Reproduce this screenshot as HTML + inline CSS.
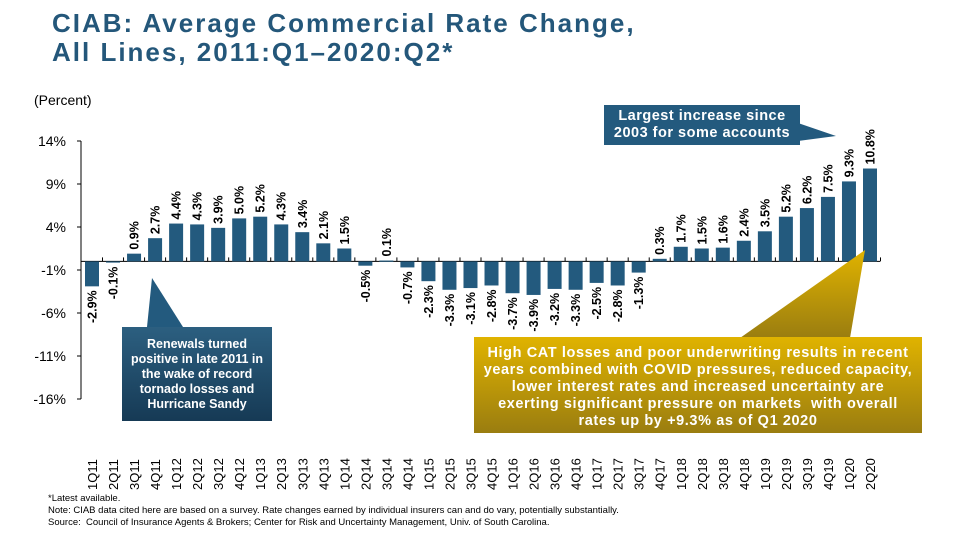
<!DOCTYPE html>
<html><head><meta charset="utf-8"><style>
body{margin:0;width:960px;height:540px;background:#fff;font-family:"Liberation Sans",Arial,sans-serif;overflow:hidden;position:relative}
.t{position:absolute}
</style></head><body>
<div class="t" style="left:52px;top:9px;font-size:26px;font-weight:bold;letter-spacing:2px;color:#24577a;line-height:29px">CIAB: Average Commercial Rate Change,<br>All Lines, 2011:Q1–2020:Q2*</div>
<div class="t" style="left:34px;top:92px;font-size:14px;color:#000">(Percent)</div>
<svg id="chart" width="960" height="540" style="position:absolute;left:0;top:0"></svg>
<div class="t" style="left:48px;top:493px;font-size:9.5px;line-height:12px;color:#000">*Latest available.<br>Note: CIAB data cited here are based on a survey. Rate changes earned by individual insurers can and do vary, potentially substantially.<br>Source:&nbsp; Council of Insurance Agents &amp; Brokers; Center for Risk and Uncertainty Management, Univ. of South Carolina.</div>
<script>
const categories=["1Q11","2Q11","3Q11","4Q11","1Q12","2Q12","3Q12","4Q12","1Q13","2Q13","3Q13","4Q13","1Q14","2Q14","3Q14","4Q14","1Q15","2Q15","3Q15","4Q15","1Q16","2Q16","3Q16","4Q16","1Q17","2Q17","3Q17","4Q17","1Q18","2Q18","3Q18","4Q18","1Q19","2Q19","3Q19","4Q19","1Q20","2Q20"];
const values=[-2.9,-0.1,0.9,2.7,4.4,4.3,3.9,5.0,5.2,4.3,3.4,2.1,1.5,-0.5,0.1,-0.7,-2.3,-3.3,-3.1,-2.8,-3.7,-3.9,-3.2,-3.3,-2.5,-2.8,-1.3,0.3,1.7,1.5,1.6,2.4,3.5,5.2,6.2,7.5,9.3,10.8];
const yTicks=[14,9,4,-1,-6,-11,-16];
const NS="http://www.w3.org/2000/svg";
const svg=document.getElementById('chart');
const yMax=14,yMin=-16,yTop=141,yBot=399;
function y(v){return yTop+(yMax-v)*(yBot-yTop)/(yMax-yMin);}
const x0=92,step=(870-92)/37;
function x(i){return x0+i*step;}
function mk(t,a,txt){const e=document.createElementNS(NS,t);for(const k in a)e.setAttribute(k,a[k]);if(txt!==undefined)e.textContent=txt;svg.appendChild(e);return e;}
let ax=mk('line',{x1:81,y1:yTop,x2:81,y2:yBot,stroke:'#000','stroke-width':1});


yTicks.forEach(t=>{
  const l=mk('line',{x1:77,y1:y(t),x2:81,y2:y(t),stroke:'#000'});
  
  
  const tx=mk('text',{x:66,y:y(t)+5,'text-anchor':'end','font-size':14,'font-family':'Liberation Sans, sans-serif'},t+'%');
  
  
});
const z=y(0);
let zl=mk('line',{x1:81,y1:z,x2:880,y2:z,stroke:'#000'});


categories.forEach((c,i)=>{
  const tk=mk('line',{x1:x(i)+step/2,y1:z-4,x2:x(i)+step/2,y2:z,stroke:'#000'});
  
  
  const v=values[i];
  const top=Math.min(y(v),z),h=Math.max(Math.abs(y(v)-z),1.2);
  const b=mk('rect',{x:x(i)-7,y:top,width:14,height:h,fill:'#235a7e'});
  
  
  const lbl=(v.toFixed(1))+'%';
  let vl;
  if(v>=0){vl=mk('text',{transform:`translate(${x(i)+4.5},${top-4}) rotate(-90)`,'font-size':12.5,'font-weight':'bold','text-anchor':'start'},lbl);}
  else{vl=mk('text',{transform:`translate(${x(i)+4.5},${top+h+4}) rotate(-90)`,'font-size':12.5,'font-weight':'bold','text-anchor':'end'},lbl);}
  
  
  const xl=mk('text',{transform:`translate(${x(i)+5},490) rotate(-90)`,'font-size':13,'text-anchor':'start'},c);
  
  
});
</script>
<svg width="960" height="540" style="position:absolute;left:0;top:0">
<defs>
<linearGradient id="gb" x1="0" y1="0" x2="0" y2="1"><stop offset="0" stop-color="#2c5f80"/><stop offset="1" stop-color="#163a55"/></linearGradient>
<linearGradient id="gg" x1="0" y1="0" x2="0" y2="1"><stop offset="0" stop-color="#e0b300"/><stop offset="1" stop-color="#9a7d10"/></linearGradient>
</defs>
<polygon points="147,327 152,278 183,327" fill="#235a7e"/>
<rect x="122" y="327" width="150" height="94" fill="url(#gb)"/>
<polygon points="798,123 836,136 798,141" fill="#235a7e"/>
<rect x="604" y="105" width="196" height="40" fill="#235a7e"/>
<polygon points="740,338 865,250 850,338" fill="url(#gg)"/>
<rect x="474" y="337" width="448" height="96" fill="url(#gg)"/>
</svg>
<div class="t" style="left:122px;top:337px;width:150px;text-align:center;color:#fff;font-size:12.5px;font-weight:bold;line-height:15px">Renewals turned positive in late 2011 in the wake of record tornado losses and Hurricane Sandy</div>
<div class="t" style="left:604px;top:108px;width:196px;text-align:center;color:#fff;font-size:14.5px;font-weight:bold;letter-spacing:0.5px;line-height:17px">Largest increase since<br>2003 for some accounts</div>
<div class="t" style="left:474px;top:345px;width:448px;text-align:center;color:#fff;font-size:14.5px;font-weight:bold;letter-spacing:0.6px;line-height:17px">High CAT losses and poor underwriting results in recent<br>years combined with COVID pressures, reduced capacity,<br>lower interest rates and increased uncertainty are<br>exerting significant pressure on markets&nbsp; with overall<br>rates up by +9.3% as of Q1 2020</div>
</body></html>
